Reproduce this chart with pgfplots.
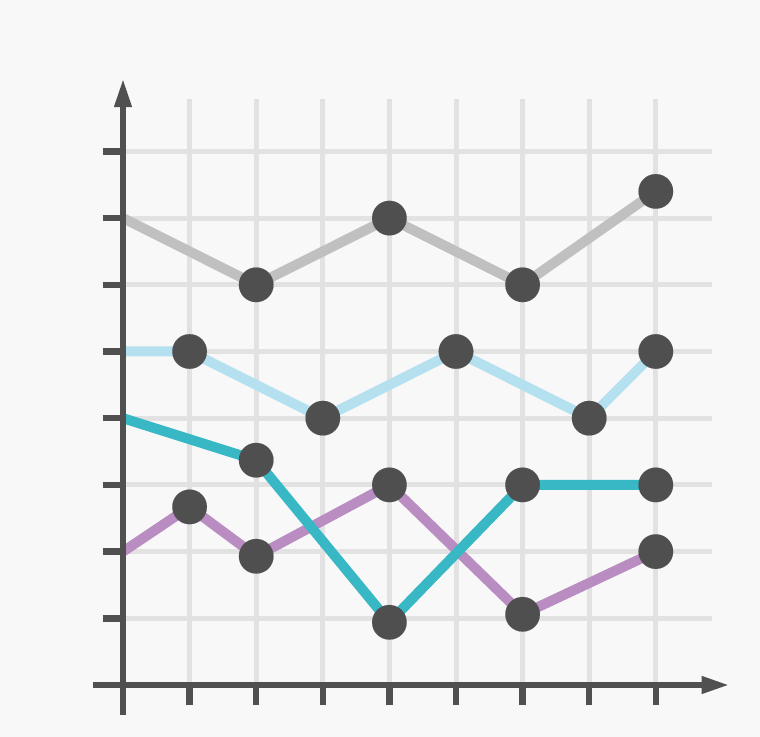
\documentclass[border=0pt]{standalone}
\usepackage{pgfplots}
\pgfplotsset{compat=1.18}
\usetikzlibrary{arrows.meta}
\definecolor{bgc}{RGB}{248,248,248}
\definecolor{gridc}{RGB}{226,226,226}
\definecolor{axisc}{RGB}{80,80,80}
\definecolor{markc}{RGB}{79,79,79}
\definecolor{grayline}{RGB}{192,192,192}
\definecolor{lblue}{RGB}{180,224,240}
\definecolor{teal}{RGB}{56,183,196}
\definecolor{purp}{RGB}{185,141,194}
\begin{document}
\begin{tikzpicture}
% page background, sets the picture size (760 x 737 px)
\fill[bgc] (-123bp,-52bp) rectangle (637bp,685bp);
\begin{axis}[at={(0,0)}, anchor=south west,
    x=66.6bp, y=66.7bp,
    xmin=0, xmax=8.84, ymin=0, ymax=8.79,
    clip=false,
    axis line style={draw=none},
    xtick={1,...,8}, ytick={1,...,8},
    xticklabels={}, yticklabels={},
    xtick pos=bottom, ytick pos=left,
    tick align=outside, major tick length=20bp,
    major tick style={line width=6.5bp, color=axisc},
    grid=major, major grid style={line width=5bp, color=gridc},
    dot/.style={line width=10bp, line join=round, mark=*, mark size=17.3bp,
        mark options={fill=markc, draw=markc, line width=0.1bp}}]
% gray
\addplot[grayline, dot, mark indices={2,...,5}] coordinates {(0,7)(2,6)(4,7)(6,6)(8,7.4)};
% light blue
\addplot[lblue, dot, mark indices={2,...,6}] coordinates {(0,5)(1,5)(3,4)(5,5)(7,4)(8,5)};
% purple
\addplot[purp, dot, mark indices={2,...,6}] coordinates {(0,2)(1,2.67)(2,1.93)(4,3)(6,1.06)(8,2)};
% teal
\addplot[teal, dot, mark indices={2,...,5}] coordinates {(0,4)(2,3.37)(4,0.94)(6,3)(8,3)};
% axes with arrows
\draw[axisc, line width=6.5bp, -{Triangle[length=28bp, width=16bp]}] (axis cs:-0.45,0) -- (axis cs:9.11,0);
\draw[axisc, line width=6.5bp, -{Triangle[length=29bp, width=16bp]}] (axis cs:0,-0.45) -- (axis cs:0,9.1);
\end{axis}
\end{tikzpicture}
\end{document}
